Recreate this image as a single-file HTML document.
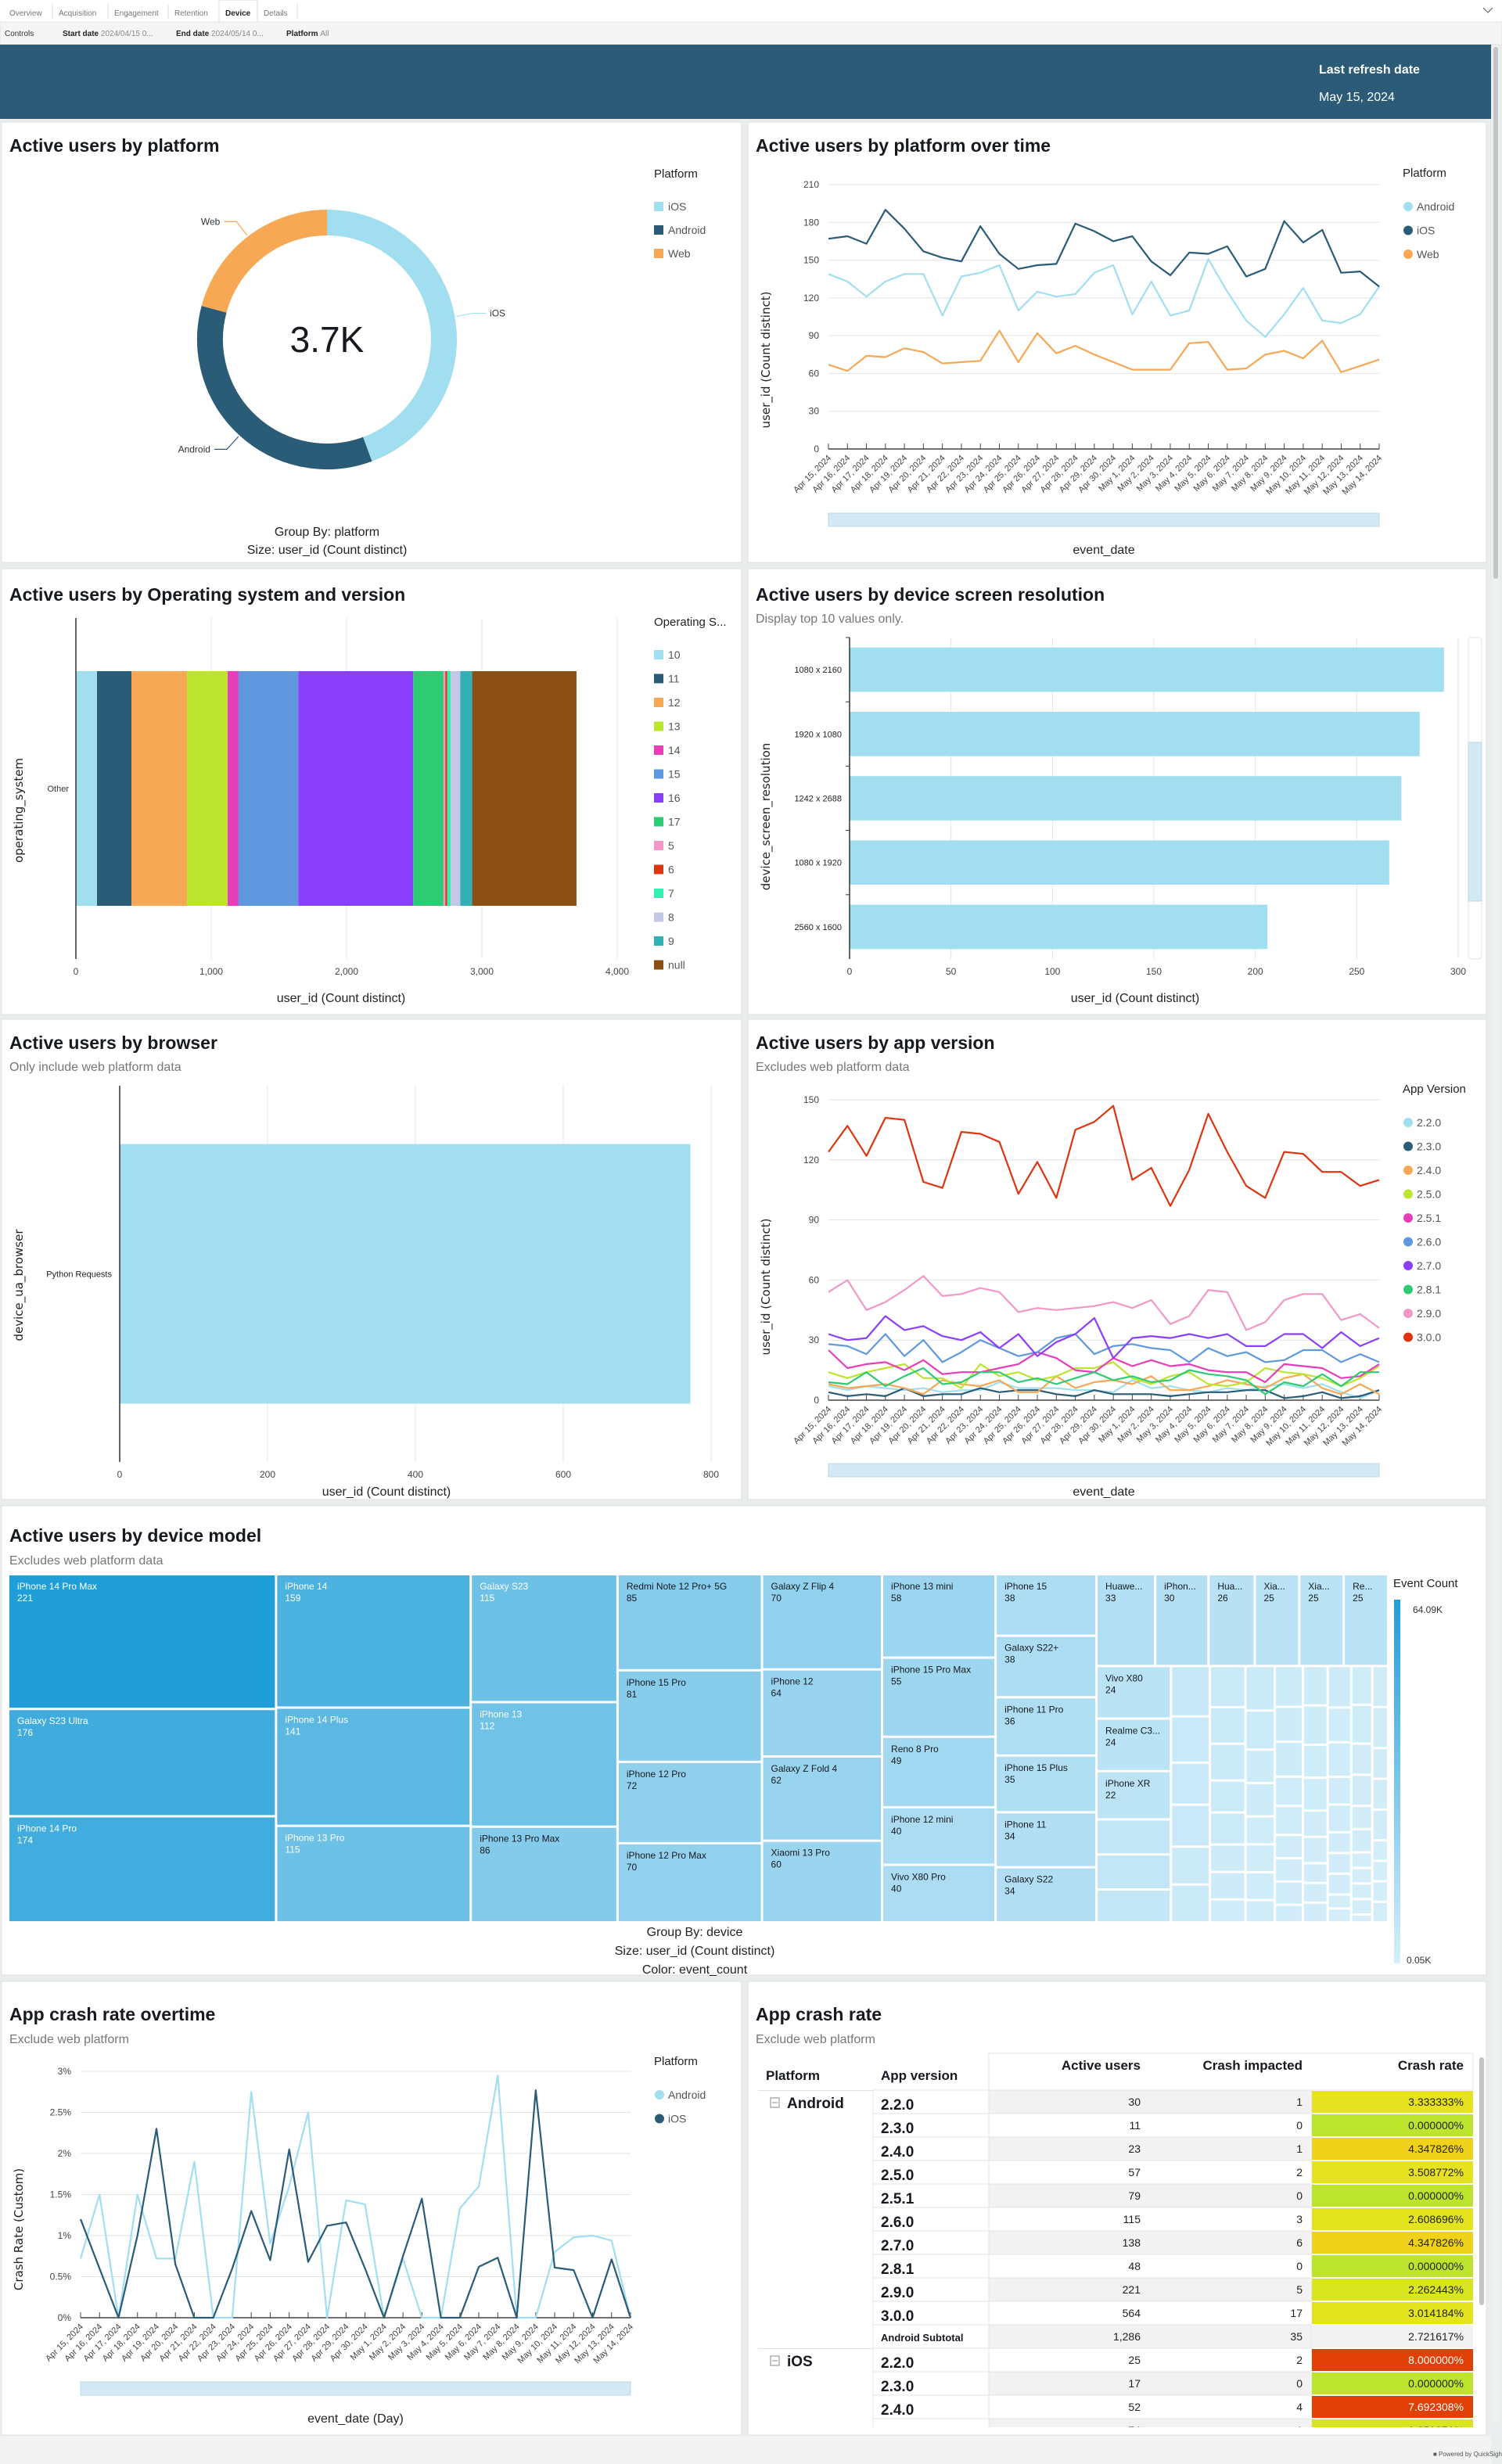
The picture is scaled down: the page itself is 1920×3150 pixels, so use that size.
<!DOCTYPE html>
<html><head><meta charset="utf-8">
<style>
html,body{margin:0;padding:0;width:1920px;height:3150px;overflow:hidden;background:#eaeded;font-family:"Liberation Sans",sans-serif;}
svg{position:absolute;left:0;top:0;}
</style></head>
<body>
<svg id="s" width="1920" height="3150" viewBox="0 0 1920 3150" xmlns="http://www.w3.org/2000/svg" font-family="Liberation Sans, sans-serif">
  <rect x="0" y="0" width="1920" height="28" fill="#ffffff"/>
  <rect x="280" y="0" width="49" height="29" fill="#ffffff" stroke="#dddddd"/>
  <g font-size="10" fill="#777">
    <text x="12" y="20">Overview</text>
    <text x="75" y="20">Acquisition</text>
    <text x="146" y="20">Engagement</text>
    <text x="223" y="20">Retention</text>
    <text x="288" y="20" fill="#222" font-weight="bold">Device</text>
    <text x="337" y="20">Details</text>
  </g>
  <g stroke="#dddddd"><line x1="67" y1="5" x2="67" y2="24"/><line x1="138" y1="5" x2="138" y2="24"/><line x1="215" y1="5" x2="215" y2="24"/><line x1="380" y1="5" x2="380" y2="24"/></g>
  <rect x="0" y="28" width="1920" height="29" fill="#f5f5f5" stroke="#e3e3e3"/>
  <g font-size="10">
    <text x="6" y="46" fill="#333">Controls</text>
    <text x="80" y="46" fill="#222" font-weight="bold">Start date <tspan font-weight="normal" fill="#888">2024/04/15 0...</tspan></text>
    <text x="225" y="46" fill="#222" font-weight="bold">End date <tspan font-weight="normal" fill="#888">2024/05/14 0...</tspan></text>
    <text x="366" y="46" fill="#222" font-weight="bold">Platform <tspan font-weight="normal" fill="#888">All</tspan></text>
  </g>
  <path d="M1896 10 L1902 16 L1908 10" fill="none" stroke="#555"/>
  <rect x="0" y="57" width="1906" height="95" fill="#2c5b77"/>
  <text x="1686" y="94" fill="#fff" font-size="16" font-weight="bold">Last refresh date</text>
  <text x="1686" y="129" fill="#fff" font-size="16">May 15, 2024</text>
  <rect x="1908" y="58" width="8" height="3040" fill="#f0f0f0"/>
  <rect x="1909" y="60" width="6" height="680" rx="3" fill="#c4c4c4"/>

  <g fill="#ffffff" stroke="#e0e0e0">
    <rect x="2" y="156" width="946" height="563"/>
    <rect x="956" y="156" width="944" height="563"/>
    <rect x="2" y="727" width="946" height="570"/>
    <rect x="956" y="727" width="944" height="570"/>
    <rect x="2" y="1303" width="946" height="614"/>
    <rect x="956" y="1303" width="944" height="614"/>
    <rect x="2" y="1925" width="1898" height="600"/>
    <rect x="2" y="2533" width="946" height="580"/>
    <rect x="956" y="2533" width="944" height="580"/>
  </g>
  <rect x="0" y="3114" width="1906" height="36" fill="#f3f3f3"/>
  <text x="1832" y="3140" font-size="8" fill="#555">■ Powered by QuickSight</text>

  <g font-size="23" font-weight="bold" fill="#16191f">
    <text x="12" y="194">Active users by platform</text>
    <text x="966" y="194">Active users by platform over time</text>
    <text x="12" y="768">Active users by Operating system and version</text>
    <text x="966" y="768">Active users by device screen resolution</text>
    <text x="12" y="1341">Active users by browser</text>
    <text x="966" y="1341">Active users by app version</text>
    <text x="12" y="1971">Active users by device model</text>
    <text x="12" y="2583">App crash rate overtime</text>
    <text x="966" y="2583">App crash rate</text>
  </g>
  <g font-size="16" fill="#777">
    <text x="966" y="796">Display top 10 values only.</text>
    <text x="12" y="1369">Only include web platform data</text>
    <text x="966" y="1369">Excludes web platform data</text>
    <text x="12" y="2000">Excludes web platform data</text>
    <text x="12" y="2612">Exclude web platform</text>
    <text x="966" y="2612">Exclude web platform</text>
  </g>
  <g font-size="16" fill="#222" text-anchor="middle">
    <text x="418" y="685">Group By: platform</text>
    <text x="418" y="708">Size: user_id (Count distinct)</text>
    <text x="888" y="2475">Group By: device</text>
    <text x="888" y="2499">Size: user_id (Count distinct)</text>
    <text x="888" y="2523">Color: event_count</text>
  </g>
</svg>
<script>
// ---------- DATA ----------
const dates = ['Apr 15, 2024','Apr 16, 2024','Apr 17, 2024','Apr 18, 2024','Apr 19, 2024','Apr 20, 2024','Apr 21, 2024','Apr 22, 2024','Apr 23, 2024','Apr 24, 2024','Apr 25, 2024','Apr 26, 2024','Apr 27, 2024','Apr 28, 2024','Apr 29, 2024','Apr 30, 2024','May 1, 2024','May 2, 2024','May 3, 2024','May 4, 2024','May 5, 2024','May 6, 2024','May 7, 2024','May 8, 2024','May 9, 2024','May 10, 2024','May 11, 2024','May 12, 2024','May 13, 2024','May 14, 2024'];

const platformNames = ['iOS','Android','Web'];
const platformUsers = [1640,1286,770];
const platformTotalLabel = '3.7K';

const iosDaily = [167,169,163,190,175,157,152,149,177,155,143,146,147,179,173,165,169,149,138,156,155,161,137,143,181,164,174,140,141,129];
const androidDaily = [139,133,121,133,139,139,106,137,140,146,110,125,121,123,140,146,107,133,106,110,151,125,102,89,107,128,102,100,107,129];
const webDaily = [67,62,74,73,80,77,68,69,70,94,69,92,76,82,75,69,63,63,63,84,85,63,64,75,78,72,86,61,66,71];
const platformTicks = [0,30,60,90,120,150,180,210];

const osVersions = ['10','11','12','13','14','15','16','17','5','6','7','8','9','null'];
const osUsers = [156,255,410,300,81,442,849,223,14,14,25,71,88,771];
const osTicks = [0,1000,2000,3000,4000];

const resolutions = ['1080 x 2160','1920 x 1080','1242 x 2688','1080 x 1920','2560 x 1600'];
const resolutionUsers = [293,281,272,266,206];
const resolutionTicks = [0,50,100,150,200,250,300];

const browsers = ['Python Requests'];
const browserUsers = [772];
const browserTicks = [0,200,400,600,800];

const appVersions = ['2.2.0','2.3.0','2.4.0','2.5.0','2.5.1','2.6.0','2.7.0','2.8.1','2.9.0','3.0.0'];
const v220 = [7,5,7,6,5,6,4,5,5,9,6,6,6,5,5,4,10,6,7,5,4,6,5,7,8,6,8,4,1,5];
const v230 = [4,2,3,2,6,2,3,3,6,4,5,5,3,2,5,3,3,3,2,3,4,4,5,5,1,2,4,1,2,5];
const v240 = [8,6,7,8,6,3,10,8,7,10,4,4,12,6,9,10,8,12,5,5,7,10,8,6,11,13,6,3,8,3];
const v250 = [14,11,14,16,18,11,11,6,18,12,14,10,12,16,16,19,11,8,12,14,8,7,9,16,14,13,11,7,11,17];
const v251 = [25,16,18,19,15,20,13,14,14,16,18,24,21,15,14,21,17,20,17,18,15,14,14,9,18,17,16,11,12,18];
const v260 = [28,27,23,33,22,30,19,24,30,26,22,24,31,33,23,27,28,26,25,19,26,22,24,19,20,25,25,19,23,19];
const v270 = [33,30,31,42,35,37,32,30,34,26,33,22,29,33,41,21,31,32,31,33,31,33,27,27,33,33,26,34,27,31];
const v281 = [9,8,14,7,12,16,8,9,14,14,9,11,8,11,14,10,12,9,10,15,13,12,10,3,9,7,13,7,14,14];
const v290 = [54,60,45,49,55,62,52,53,56,54,44,46,45,46,47,49,46,50,38,42,55,54,35,39,50,53,53,40,43,36];
const v300 = [124,137,122,141,140,109,106,134,133,129,103,119,101,135,139,147,110,116,97,115,143,124,107,101,124,123,114,114,107,110];
const appTicks = [0,30,60,90,120,150];

const crashAndroid = [0.72,1.5,0,1.5,0.72,0.72,1.9,0,0,2.75,0.9,1.6,2.5,0,1.43,1.38,0,0.72,0,0,1.33,1.6,2.95,0,0,0.8,0.98,1.0,0.94,0];
const crashIos = [1.2,0.6,0,1.0,2.3,0.65,0,0,0.6,1.3,0.7,2.05,0.68,1.12,1.16,0.6,0,0.75,1.45,0,0,0.62,0.73,0,2.77,0.61,0.58,0,0.71,0];
const crashTicks = [0,0.5,1,1.5,2,2.5,3];

const tmNames = [
 ['iPhone 14 Pro Max','Galaxy S23 Ultra','iPhone 14 Pro'],
 ['iPhone 14','iPhone 14 Plus','iPhone 13 Pro'],
 ['Galaxy S23','iPhone 13','iPhone 13 Pro Max'],
 ['Redmi Note 12 Pro+ 5G','iPhone 15 Pro','iPhone 12 Pro','iPhone 12 Pro Max'],
 ['Galaxy Z Flip 4','iPhone 12','Galaxy Z Fold 4','Xiaomi 13 Pro'],
 ['iPhone 13 mini','iPhone 15 Pro Max','Reno 8 Pro','iPhone 12 mini','Vivo X80 Pro'],
 ['iPhone 15','Galaxy S22+','iPhone 11 Pro','iPhone 15 Plus','iPhone 11','Galaxy S22']
];
const tmValues = [
 [221,176,174],[159,141,115],[115,112,86],[85,81,72,70],[70,64,62,60],[58,55,49,40,40],[38,38,36,35,34,34]
];
const tmTopNames = ['Huawe...','iPhon...','Hua...','Xia...','Xia...','Re...'];
const tmTopValues = [33,30,26,25,25,25];
const tmSubNames = ['Vivo X80','Realme C3...','iPhone XR','','',''];
const tmSubValues = [24,24,22,16,16,15];
const tmSmallValues = [[12,11,10,10,9,9],[9,8,8,7,7,6,6,5],[8,7,6,6,5,5,5,4],[7,6,6,5,5,4,4,4,3],[6,6,5,5,4,4,3,3,3],[6,5,5,4,4,3,3,3,2,2],[5,5,4,4,3,3,2,2,2,2,1],[4,4,3,3,3,2,2,2,2]];

const tblVersions = ['2.2.0','2.3.0','2.4.0','2.5.0','2.5.1','2.6.0','2.7.0','2.8.1','2.9.0','3.0.0','Android Subtotal','2.2.0','2.3.0','2.4.0','2.5.0'];
const tblPlatform = ['Android','','','','','','','','','','','iOS','','',''];
const tblActive = [30,11,23,57,79,115,138,48,221,564,1286,25,17,52,74];
const tblCrashed = [1,0,1,2,0,3,6,0,5,17,35,2,0,4,1];

// ---------- HELPERS ----------
const NS='http://www.w3.org/2000/svg';
const svg=document.getElementById('s');
function mk(tag, attrs, parent){const e=document.createElementNS(NS,tag);for(const k in attrs)e.setAttribute(k,attrs[k]);(parent||svg).appendChild(e);return e;}
function tx(x,y,str,attrs,parent){const a=Object.assign({x:x,y:y},attrs||{});const e=mk('text',a,parent);e.textContent=str;return e;}
function fmtNum(n){return n.toLocaleString('en-US');}

// ---------- DONUT ----------
(function(){
  const cx=418, cy=434, r=149.5, w=33;
  const colors=['#a1dff0','#2a5b77','#f6a855'];
  const total=platformUsers.reduce((a,b)=>a+b,0);
  let a0=0;
  platformUsers.forEach((v,i)=>{
    const a1=a0+v/total*Math.PI*2;
    const p=(a)=>[cx+r*Math.sin(a), cy-r*Math.cos(a)];
    const s=p(a0), e=p(a1);
    const large=(a1-a0)>Math.PI?1:0;
    const arc=mk('path',{d:`M${s[0]} ${s[1]} A${r} ${r} 0 ${large} 1 ${e[0]} ${e[1]}`,fill:'none',stroke:colors[i],'stroke-width':w});
    
    
    const am=(a0+a1)/2;
    const ro=168, rl=190;
    const p1=[cx+ro*Math.sin(am), cy-ro*Math.cos(am)];
    const p2=[cx+rl*Math.sin(am), cy-rl*Math.cos(am)];
    const right=Math.sin(am)>0;
    const p3=[p2[0]+(right?16:-16),p2[1]];
    const ln=mk('polyline',{points:`${p1[0]},${p1[1]} ${p2[0]},${p2[1]} ${p3[0]},${p3[1]}`,fill:'none',stroke:colors[i],'stroke-width':1.2});
    
    
    const lb=tx(p3[0]+(right?5:-5),p3[1]+4,platformNames[i],{'font-size':12,fill:'#333','text-anchor':right?'start':'end'});
    
    
    a0=a1;
  });
  const c=tx(cx,cy+16,platformTotalLabel,{'font-size':46,fill:'#16191f','text-anchor':'middle'});
  
  
  const lt=tx(836,227,'Platform',{'font-size':15,fill:'#222'});
  
  
  platformNames.forEach((n,i)=>{
    const y=264+i*30;
    const sw=mk('rect',{x:836,y:y-6,width:12,height:12,fill:colors[i]});
    
    
    const t=tx(854,y+5,n,{'font-size':14,fill:'#555'});
    
    
  });
})();

// ---------- LINE CHART ----------
function lineChart(o){
  const n=o.labels.length;
  const sx=i=>o.x0+i*(o.x1-o.x0)/(n-1);
  const sy=v=>o.yBot-v/o.max*(o.yBot-o.yTop);
  o.ticks.forEach(t=>{
    const g=mk('line',{x1:o.x0,x2:o.x1,y1:sy(t),y2:sy(t),stroke:'#e3e3e3','stroke-width':1});
    
    
    const l=tx(o.x0-12,sy(t)+4,o.fmt(t),{'font-size':12,fill:'#444','text-anchor':'end'});
    
    
  });
  const ax=mk('line',{x1:o.x0,x2:o.x1,y1:o.yBot,y2:o.yBot,stroke:'#444','stroke-width':1.5});
  
  
  o.labels.forEach((d,i)=>{
    const tk=mk('line',{x1:sx(i),x2:sx(i),y1:o.yBot,y2:o.yBot-7,stroke:'#444'});
    
    
    const l=tx(sx(i)+4,o.yBot+12,d,{'font-size':11,fill:'#444','text-anchor':'end',transform:`rotate(-45 ${sx(i)+4} ${o.yBot+12})`});
    
    
  });
  o.series.forEach(s=>{
    const d=s.vals.map((v,i)=>(i?'L':'M')+sx(i).toFixed(1)+' '+sy(v).toFixed(1)).join(' ');
    const p=mk('path',{d:d,fill:'none',stroke:s.color,'stroke-width':2.2,'stroke-linejoin':'round'});
    
    
  });
  const sb=mk('rect',{x:o.x0,y:o.sbY,width:o.x1-o.x0,height:17,fill:'#d3eaf5',stroke:'#bcd8e8'});
  
  
  const yt=tx(0,0,o.yTitle,{'font-size':15,fill:'#222','font-family':'DejaVu Sans, sans-serif','text-anchor':'middle',transform:`translate(${o.yTitleX} ${o.yTitleY}) rotate(-90)`});
  
  
  const xt=tx((o.x0+o.x1)/2,o.xTitleY,o.xTitle,{'font-size':16,fill:'#222','text-anchor':'middle'});
  
  
  const lt=tx(o.legX,o.legY,o.legTitle,{'font-size':15,fill:'#222'});
  
  
  o.legend.forEach((s,i)=>{
    const y=o.legY+38+i*o.legStep;
    const c=mk('circle',{cx:o.legX+7,cy:y,r:6,fill:s.color});
    
    
    const t=tx(o.legX+18,y+5,s.name,{'font-size':14,fill:'#555'});
    
    
  });
}

lineChart({key:'platform-time',labels:dates,x0:1059,x1:1763,yTop:236,yBot:574,max:210,ticks:platformTicks,fmt:t=>String(t),
  series:[{name:'web',vals:webDaily,color:'#f6a855'},{name:'android',vals:androidDaily,color:'#a1dff0'},{name:'ios',vals:iosDaily,color:'#2a5b77'}],
  sbY:656,yTitle:'user_id (Count distinct)',yTitleX:984,yTitleY:460,xTitle:'event_date',xTitleY:708,legX:1793,legY:226,legStep:30.5,legTitle:'Platform',
  legend:[{name:'Android',color:'#a1dff0'},{name:'iOS',color:'#2a5b77'},{name:'Web',color:'#f6a855'}]});

const appColors=['#a1dff0','#2a5b77','#f6a855','#bbe52f','#e83dbb','#6098e0','#8a3ffc','#2fcb74','#f297c8','#dd3510'];
const appSeries=[v220,v230,v240,v250,v251,v260,v270,v281,v290,v300];
lineChart({key:'app-version',labels:dates,x0:1059,x1:1763,yTop:1406,yBot:1790,max:150,ticks:appTicks,fmt:t=>String(t),
  series:appSeries.map((v,i)=>({name:appVersions[i],vals:v,color:appColors[i]})),
  sbY:1871,yTitle:'user_id (Count distinct)',yTitleX:984,yTitleY:1645,xTitle:'event_date',xTitleY:1912,legX:1793,legY:1397,legStep:30.5,legTitle:'App Version',
  legend:appVersions.map((n,i)=>({name:n,color:appColors[i]}))});

lineChart({key:'crash-rate',labels:dates,x0:103,x1:806,yTop:2648,yBot:2963,max:3,ticks:crashTicks,fmt:t=>t+'%',
  series:[{name:'android',vals:crashAndroid,color:'#a1dff0'},{name:'ios',vals:crashIos,color:'#2a5b77'}],
  sbY:3045,yTitle:'Crash Rate (Custom)',yTitleX:29,yTitleY:2850,xTitle:'event_date (Day)',xTitleY:3097,legX:836,legY:2640,legStep:30.5,legTitle:'Platform',
  legend:[{name:'Android',color:'#a1dff0'},{name:'iOS',color:'#2a5b77'}]});

// ---------- OS STACKED BAR ----------
(function(){
  const x0=97, ppu=173/1000, yT=790, yB=1226;
  const osColors=['#a1dff0','#2a5b77','#f6a855','#bbe52f','#e83dbb','#6098e0','#8a3ffc','#2fcb74','#f297c8','#dd3510','#2ff2b0','#c4c8e6','#32b0b3','#8b4e14'];
  osTicks.forEach(t=>{
    if(t>0){const g=mk('line',{x1:x0+t*ppu,x2:x0+t*ppu,y1:yT,y2:yB,stroke:'#e6e6e6'});
    
    }
    const l=tx(x0+t*ppu,1246,fmtNum(t),{'font-size':12,fill:'#444','text-anchor':'middle'});
    
    
  });
  let acc=0;
  osUsers.forEach((v,i)=>{
    const r=mk('rect',{x:x0+acc*ppu,y:858,width:v*ppu,height:300,fill:osColors[i]});
    
    
    acc+=v;
  });
  const ax=mk('line',{x1:x0,x2:x0,y1:yT,y2:yB,stroke:'#333','stroke-width':1.5});
  
  
  const c=tx(88,1012,'Other',{'font-size':11,fill:'#333','text-anchor':'end'});
  
  
  const yt=tx(0,0,'operating_system',{'font-size':15,fill:'#222','font-family':'DejaVu Sans, sans-serif','text-anchor':'middle',transform:'translate(29 1036) rotate(-90)'});
  
  
  const xt=tx(436,1281,'user_id (Count distinct)',{'font-size':16,fill:'#222','text-anchor':'middle'});
  
  
  const lt=tx(836,800,'Operating S...',{'font-size':15,fill:'#222'});
  
  
  osVersions.forEach((n,i)=>{
    const y=837+i*30.5;
    const sw=mk('rect',{x:836,y:y-6,width:12,height:12,fill:osColors[i]});
    
    
    const t=tx(854,y+5,n,{'font-size':14,fill:'#555'});
    
    
  });
})();

// ---------- HORIZONTAL BAR ----------
function hBar(o){
  const sx=v=>o.x0+v*o.ppu;
  o.ticks.forEach(t=>{
    if(t>0){const g=mk('line',{x1:sx(t),x2:sx(t),y1:o.yT,y2:o.yB,stroke:'#e6e6e6'});
    
    }
    const l=tx(sx(t),o.yB+20,fmtNum(t),{'font-size':12,fill:'#444','text-anchor':'middle'});
    
    
  });
  const band=(o.yB-o.yT)/o.cats.length;
  o.vals.forEach((v,i)=>{
    const y=o.yT+i*band+band*o.pad;
    const r=mk('rect',{x:o.x0,y:y,width:v*o.ppu,height:band*(1-2*o.pad),fill:'#a1dff0'});
    
    
    const l=tx(o.x0-10,o.yT+(i+0.5)*band+4,o.cats[i],{'font-size':11,fill:'#222','text-anchor':'end'});
    
    
    if(o.tickMarks){const tk=mk('line',{x1:o.x0-5,x2:o.x0,y1:o.yT+i*band,y2:o.yT+i*band,stroke:'#333'});
    
    }
  });
  const ax=mk('line',{x1:o.x0,x2:o.x0,y1:o.yT,y2:o.yB,stroke:'#333','stroke-width':1.5});
  
  
  const yt=tx(0,0,o.yTitle,{'font-size':15,fill:'#222','font-family':'DejaVu Sans, sans-serif','text-anchor':'middle',transform:`translate(${o.yTitleX} ${o.yTitleY}) rotate(-90)`});
  
  
  const xt=tx(o.xTitleX,o.xTitleY,'user_id (Count distinct)',{'font-size':16,fill:'#222','text-anchor':'middle'});
  
  
}
hBar({key:'resolution',cats:resolutions,vals:resolutionUsers,ticks:resolutionTicks,x0:1086,ppu:778/300,yT:815,yB:1226,pad:0.155,yTitle:'device_screen_resolution',yTitleX:984,yTitleY:1044,xTitleX:1451,xTitleY:1281,tickMarks:true});
hBar({key:'browser',cats:browsers,vals:browserUsers,ticks:browserTicks,x0:153,ppu:756/800,yT:1388,yB:1869,pad:0.155,yTitle:'device_ua_browser',yTitleX:29,yTitleY:1643,xTitleX:494,xTitleY:1912,tickMarks:false});
(function(){
  const t=mk('rect',{x:1877,y:815,width:17,height:411,rx:4,fill:'#fff',stroke:'#e6e6e6'});
  
  
  const th=mk('rect',{x:1877,y:949,width:17,height:203,fill:'#d3eaf5',stroke:'#bcd8e8'});
  
  
})();

// ---------- TREEMAP ----------
(function(){
  const X0=12, X1=1773, Y0=2014, Y1=2456, gap=3;
  const light=[214,239,250], dark=[32,158,216];
  const col=v=>{const t=Math.min(1,Math.pow(v/221,0.85));return 'rgb('+light.map((c,i)=>Math.round(c+(dark[i]-c)*t)).join(',')+')';};
  const colSums=tmValues.map(a=>a.reduce((x,y)=>x+y,0));
  const restSum=tmTopValues.reduce((a,b)=>a+b,0)+tmSubValues.reduce((a,b)=>a+b,0)+tmSmallValues.flat().reduce((a,b)=>a+b,0);
  const total=colSums.reduce((a,b)=>a+b,0)+restSum;
  const W=X1+gap-X0;
  function cell(x,y,w,h,v,name){
    const r=mk('rect',{x:x,y:y,width:Math.max(0,w-gap),height:Math.max(0,h-gap),fill:col(v)});
    
    
    if(name){
      const fc=v>=100?'#ffffff':'#16191f';
      const t=tx(x+10,y+18,name,{'font-size':12,fill:fc});
      
      
      const t2=tx(x+10,y+33,String(v),{'font-size':12,fill:fc});
      
      
    }
  }
  function column(x,w,y0,y1,vals,names){
    const s=vals.reduce((a,b)=>a+b,0);let y=y0;
    vals.forEach((v,i)=>{const h=(y1-y0)*v/s;cell(x,y,w,h,v,names?names[i]:'');y+=h;});
  }
  let x=X0;
  tmValues.forEach((vals,ci)=>{const w=W*colSums[ci]/total;column(x,w,Y0,Y1+gap,vals,tmNames[ci]);x+=w;});
  const rx0=x, rw=X1+gap-x;
  const topSum=tmTopValues.reduce((a,b)=>a+b,0);
  const topH=(Y1+gap-Y0)*topSum/restSum;
  let tx0=rx0;
  tmTopValues.forEach((v,i)=>{const w=rw*v/topSum;cell(tx0,Y0,w,topH,v,tmTopNames[i]);tx0+=w;});
  const by0=Y0+topH, remSum=restSum-topSum;
  const subSum=tmSubValues.reduce((a,b)=>a+b,0);
  const subW=rw*subSum/remSum;
  column(rx0,subW,by0,Y1+gap,tmSubValues,tmSubNames);
  let sx0=rx0+subW;
  tmSmallValues.forEach(vals=>{const s=vals.reduce((a,b)=>a+b,0);const w=rw*s/remSum;column(sx0,w,by0,Y1+gap,vals,null);sx0+=w;});
  const defs=mk('defs',{});
  const lg=mk('linearGradient',{id:'tmg',x1:0,y1:0,x2:0,y2:1},defs);
  mk('stop',{offset:'0','stop-color':'#209ed8'},lg);
  mk('stop',{offset:'1','stop-color':'#d6effa'},lg);
  const bar=mk('rect',{x:1782,y:2045,width:8,height:465,fill:'url(#tmg)'});
  
  
  const lt=tx(1781,2029,'Event Count',{'font-size':15,fill:'#222'});
  
  
  const mx=tx(1806,2062,'64.09K',{'font-size':12,fill:'#333'});
  
  
  const mn=tx(1798,2510,'0.05K',{'font-size':12,fill:'#333'});
  
  
})();

// ---------- TABLE ----------
(function(){
  const g=mk('g',{'clip-path':'url(#tclip)'});
  const cp=mk('clipPath',{id:'tclip'});
  mk('rect',{x:960,y:2600,width:940,height:503},cp);
  const cols=[969,1116,1264,1470,1677,1883];
  const hb=mk('rect',{x:1264,y:2625,width:619,height:47,fill:'#fff',stroke:'#e6e6e6'});
  
  
  [['Platform',cols[0]+10,2659,'start'],['App version',cols[1]+10,2659,'start'],['Active users',cols[3]-12,2646,'end'],['Crash impacted',cols[4]-12,2646,'end'],['Crash rate',cols[5]-12,2646,'end']].forEach(h=>{
    const t=tx(h[1],h[2],h[0],{'font-size':17,'font-weight':'bold',fill:'#16191f','text-anchor':h[3]});
    
    
  });
  const rowH=30, top=2672;
  const rateColor=r=>{if(r===0)return '#bce42d';if(r<2.5)return '#d9e51f';if(r<3.2)return '#e3e31e';if(r<4)return '#e7e21f';if(r<6)return '#f0d21a';return '#e04006';};
  tblVersions.forEach((v,i)=>{
    const y=top+i*rowH;
    const isSub=v.indexOf('Subtotal')>=0;
    const bg=mk('rect',{x:cols[2],y:y,width:cols[4]-cols[2],height:rowH,fill:(i%2===0)?'#f2f2f2':'#ffffff',stroke:'#e6e6e6'},g);
    
    
    const vb=mk('rect',{x:cols[1],y:y,width:cols[2]-cols[1],height:rowH,fill:'#fff',stroke:'#e6e6e6'},g);
    
    
    const rate=tblActive[i]?tblCrashed[i]/tblActive[i]*100:0;
    const rc=mk('rect',{x:cols[4],y:y+1,width:cols[5]-cols[4],height:rowH-2,fill:isSub?'#f2f2f2':rateColor(rate)},g);
    
    
    const vt=tx(cols[1]+10,y+(isSub?21:25),v,{'font-size':isSub?13:19,'font-weight':'bold',fill:'#16191f'},g);
    
    
    const a=tx(cols[3]-12,y+20,fmtNum(tblActive[i]),{'font-size':14,fill:'#222','text-anchor':'end'},g);
    
    
    const c=tx(cols[4]-12,y+20,String(tblCrashed[i]),{'font-size':14,fill:'#222','text-anchor':'end'},g);
    
    
    const r=tx(cols[5]-12,y+20,rate.toFixed(6)+'%',{'font-size':14,fill:(!isSub&&rate>6)?'#fff':'#222','text-anchor':'end'},g);
    
    
    if(tblPlatform[i]){
      const pb=mk('rect',{x:cols[0],y:y,width:cols[1]-cols[0],height:1,fill:'#e0e0e0'},g);
      
      
      const ic=mk('rect',{x:cols[0]+16,y:y+10,width:11,height:12,fill:'#fff',stroke:'#888'},g);
      
      
      mk('line',{x1:cols[0]+18,x2:cols[0]+25,y1:y+16,y2:y+16,stroke:'#888'},g);
      const pt=tx(cols[0]+37,y+23,tblPlatform[i],{'font-size':19,'font-weight':'bold',fill:'#16191f'},g);
      
      
    }
  });
  const st=mk('rect',{x:1891,y:2630,width:6,height:317,rx:3,fill:'#c4c4c4'});
  
  
})();
</script>
</body></html>
